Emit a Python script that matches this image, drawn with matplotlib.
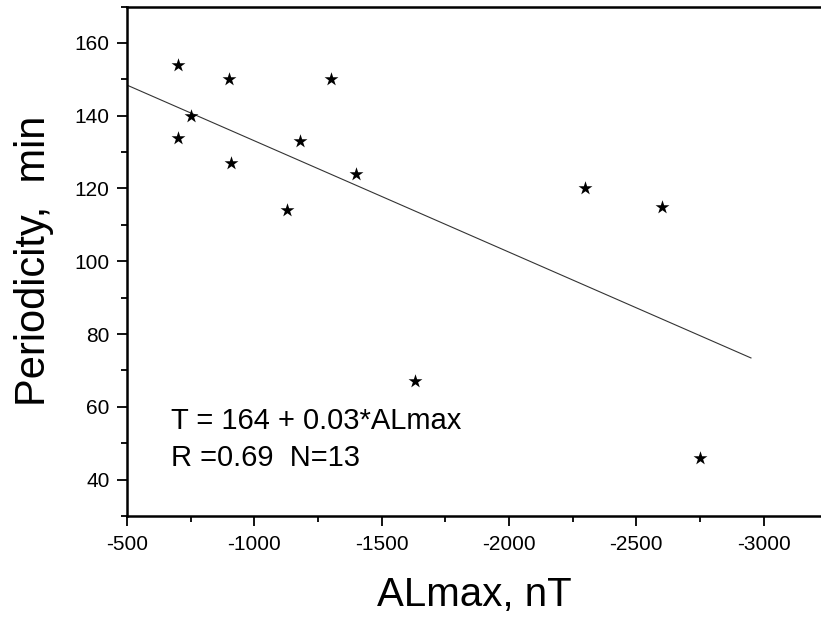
import matplotlib
matplotlib.use("Agg")
import matplotlib.pyplot as plt
import numpy as np
from matplotlib.ticker import MultipleLocator

plt.rcParams['font.family'] = ['Liberation Sans', 'DejaVu Sans']
plt.rcParams['axes.unicode_minus'] = False

# Data
almax = [-700, -700, -750, -900, -910, -1300, -1180, -1130, -1400, -1630, -2300, -2600, -2750]
period = [154, 134, 140, 150, 127, 150, 133, 114, 124, 67, 120, 115, 46]

# Fitted line parameters (as drawn)
fit_intercept = 163.7
fit_slope = 0.0306
fit_range = [-500, -2950]

eq_text = "T = 164 + 0.03*ALmax"
stat_text = "R =0.69  N=13"

fig = plt.figure(figsize=(8.21, 6.21), dpi=100)
ax = fig.add_axes([127 / 821, 105 / 621, 1 - 127 / 821, (516 - 6.5) / 621])

ax.scatter(almax, period, marker='*', s=110, color='black', zorder=3, linewidths=0)
fx = np.array(fit_range, dtype=float)
ax.plot(fx, fit_intercept + fit_slope * fx, color='#333333', lw=0.8)

ax.set_xlim(-500, -3225)
ax.set_ylim(30, 170)
ax.xaxis.set_major_locator(MultipleLocator(500))
ax.xaxis.set_minor_locator(MultipleLocator(250))
ax.yaxis.set_major_locator(MultipleLocator(20))
ax.yaxis.set_minor_locator(MultipleLocator(10))
ax.set_xticks([-500, -1000, -1500, -2000, -2500, -3000])
ax.set_yticks([40, 60, 80, 100, 120, 140, 160])

ax.tick_params(which='major', direction='out', length=7.5, width=1.3, labelsize=15)
ax.tick_params(axis='x', which='major', pad=6)
ax.tick_params(axis='y', which='major', pad=5)
ax.tick_params(which='minor', direction='out', length=4, width=1.3)
for s in ['left', 'bottom', 'top']:
    ax.spines[s].set_linewidth(1.8)
ax.spines['right'].set_visible(False)

ax.set_xlabel("ALmax, nT", fontsize=29, labelpad=16)
ax.set_ylabel("Periodicity,  min", fontsize=30, labelpad=15)

ax.text(-674, 56, eq_text, fontsize=21, va='center', ha='left')
ax.text(-674, 46, stat_text, fontsize=21, va='center', ha='left')

fig.savefig("out.png", dpi=100)
